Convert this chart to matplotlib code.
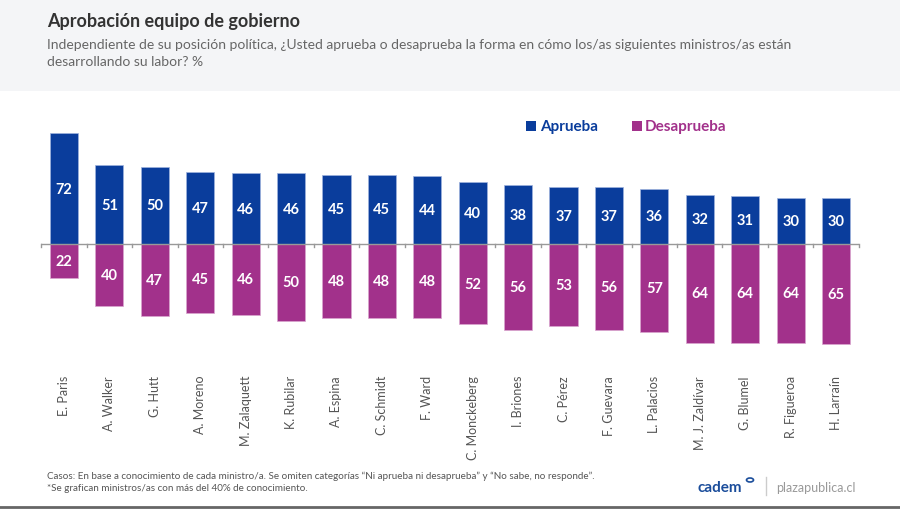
import matplotlib.pyplot as plt
from matplotlib.patches import Rectangle, Circle
from matplotlib.lines import Line2D
import matplotlib.transforms as mtransforms

plt.rcParams['font.family'] = ['Lato', 'DejaVu Sans']

nombres = ['E. Paris', 'A. Walker', 'G. Hutt', 'A. Moreno', 'M. Zalaquett',
           'K. Rubilar', 'A. Espina', 'C. Schmidt', 'F. Ward', 'C. Monckeberg',
           'I. Briones', 'C. Pérez', 'F. Guevara', 'L. Palacios',
           'M. J. Zaldívar', 'G. Blumel', 'R. Figueroa', 'H. Larraín']
aprueba = [72, 51, 50, 47, 46, 46, 45, 45, 44, 40, 38, 37, 37, 36, 32, 31, 30, 30]
desaprueba = [22, 40, 47, 45, 46, 50, 48, 48, 48, 52, 56, 53, 56, 57, 64, 64, 64, 65]

AZUL = '#0a3d9c'
MAGENTA = '#a2318b'

W, H = 900, 510
fig = plt.figure(figsize=(9, 5.1), dpi=100)
fig.patch.set_facecolor('white')

# header band
fig.patches.append(Rectangle((0, (H - 92) / H), 1, 92 / H, transform=fig.transFigure,
                             facecolor='#f4f5f7', edgecolor='none', zorder=0))
fig.text(47 / W, 1 - 22 / H, 'Aprobación equipo de gobierno', fontsize=13,
         fontweight='bold', color='#333333', va='center')
fig.text(47 / W, 1 - 45 / H,
         'Independiente de su posición política, ¿Usted aprueba o desaprueba la forma en cómo los/as siguientes ministros/as están',
         fontsize=10, color='#666666', va='center')
fig.text(47 / W, 1 - 62 / H, 'desarrollando su labor? %', fontsize=10,
         color='#666666', va='center')

# axes: x from -0.5..17.5 -> 41.3..858.7 px, zero at y=245 px, 1.54 px/unit
ymin, ymax = -75, 80
ppu = 1.54
top_px = 245 - ymax * ppu
bot_px = 245 - ymin * ppu
ax = fig.add_axes([41.3 / W, (H - bot_px) / H, 817.4 / W, (bot_px - top_px) / H])
ax.set_xlim(-0.5, len(nombres) - 0.5)
ax.set_ylim(ymin, ymax)
ax.axis('off')

x = list(range(len(nombres)))
neg = [-v for v in desaprueba]
ax.bar(x, aprueba, width=0.62, color=AZUL, edgecolor='#9fb3dd', linewidth=0.5, zorder=2)
ax.bar(x, neg, width=0.62, color=MAGENTA, edgecolor='#d9a6cf', linewidth=0.5, zorder=2)

ax.axhline(0, color='#999999', linewidth=1, zorder=3)
for b in range(len(nombres) + 1):
    ax.plot([b - 0.5, b - 0.5], [0, -2.2], color='#999999', linewidth=1, zorder=3,
            clip_on=False)

for i in x:
    ax.text(i, aprueba[i] / 2, str(aprueba[i]), ha='center', va='center',
            color='white', fontsize=10.5, fontweight='bold', zorder=4)
    ax.text(i, neg[i] / 2, str(desaprueba[i]), ha='center', va='center',
            color='white', fontsize=10.5, fontweight='bold', zorder=4)

trans = mtransforms.blended_transform_factory(ax.transData, fig.transFigure)
for i, n in enumerate(nombres):
    ax.text(i, 1 - 376 / H, n, rotation=90, ha='center', va='top', fontsize=9,
            color='#555555', transform=trans, clip_on=False)

# legend
fig.patches.append(Rectangle((526 / W, 1 - 132 / H), 10 / W, 10 / H,
                             transform=fig.transFigure, facecolor=AZUL, edgecolor='none'))
fig.text(540 / W, 1 - 127 / H, 'Aprueba', fontsize=11, fontweight='bold', color=AZUL,
         va='center')
fig.patches.append(Rectangle((632 / W, 1 - 132 / H), 10 / W, 10 / H,
                             transform=fig.transFigure, facecolor=MAGENTA, edgecolor='none'))
fig.text(645 / W, 1 - 127 / H, 'Desaprueba', fontsize=11, fontweight='bold',
         color=MAGENTA, va='center')

# footer
fig.text(47 / W, 1 - 476 / H,
         'Casos: En base a conocimiento de cada ministro/a. Se omiten categorías “Ni aprueba ni desaprueba” y “No sabe, no responde”.',
         fontsize=7.1, color='#555555', va='center')
fig.text(47 / W, 1 - 489 / H,
         '*Se grafican ministros/as con más del 40% de conocimiento.',
         fontsize=7.1, color='#555555', va='center')
fig.text(697 / W, 1 - 488 / H, 'cadem', fontsize=11, color='#1b4d9b',
         va='center', fontweight='bold')
fig.patches.append(Circle((750 / W, 1 - 481 / H), 3.5 / W, transform=fig.transFigure,
                          facecolor='none', edgecolor='#1b4d9b', linewidth=1.2))
fig.lines.append(Line2D([766 / W, 766 / W], [1 - 478 / H, 1 - 496 / H],
                        transform=fig.transFigure, color='#cccccc', linewidth=1))
fig.text(776 / W, 1 - 488 / H, 'plazapublica.cl', fontsize=9, color='#999999',
         va='center')
fig.lines.append(Line2D([0, 1], [1 - 508 / H, 1 - 508 / H], transform=fig.transFigure,
                        color='#666666', linewidth=2))

fig.savefig('out.png', dpi=100)
